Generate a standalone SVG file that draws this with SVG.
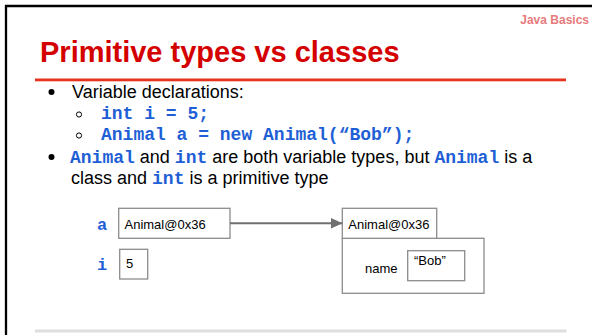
<svg xmlns="http://www.w3.org/2000/svg" width="592" height="335" viewBox="0 0 592 335">
<style>
.body{font-family:"Liberation Sans",Arial,sans-serif;font-size:18px;fill:#000}
.code{font-family:"Liberation Mono","Courier New",monospace;font-weight:bold;fill:#1f5fd6}
.box{fill:#fff;stroke:#8c8c8c;stroke-width:1.3}
.lbl{font-family:"Liberation Sans",Arial,sans-serif;font-size:13px;fill:#000}
.var{font-family:"Liberation Mono","Courier New",monospace;font-weight:bold;font-size:17px;fill:#1f5fd6}
.conn{stroke:#707070;stroke-width:2;fill:none}
</style>
<defs>
<marker id="ah" markerUnits="userSpaceOnUse" markerWidth="13" markerHeight="12" refX="12" refY="6" orient="auto"><path d="M0,0.5 L12,6 L0,11.5 Z" fill="#707070"/></marker>
</defs>
<rect width="592" height="335" fill="#fff"/>
<path d="M6,340 V6 H600" fill="none" stroke="#000" stroke-width="2.3"/>
<g id="header">
<text x="589" y="24" text-anchor="end" font-family="Liberation Sans, Arial, sans-serif" font-size="12" font-weight="bold" fill="#e77b7b">Java Basics</text>
<text x="40" y="62" font-family="Liberation Sans, Arial, sans-serif" font-size="29" font-weight="bold" fill="#d40000">Primitive types vs classes</text>
<rect x="35" y="78.5" width="531" height="2.8" fill="#e8321e"/>
</g>
<g id="bullets">
<circle cx="51.5" cy="92" r="3" fill="#000"/>
<text class="body" x="72" y="98">Variable declarations:</text>
<circle cx="79" cy="114.5" r="2.6" fill="none" stroke="#000" stroke-width="1"/>
<text class="body code" x="101" y="119">int i = 5;</text>
<circle cx="79" cy="135.5" r="2.6" fill="none" stroke="#000" stroke-width="1"/>
<text class="body code" x="101" y="140">Animal a = new Animal(“Bob”);</text>
<circle cx="51.5" cy="157" r="3" fill="#000"/>
<text class="body" x="70" y="163" xml:space="preserve"><tspan class="code">Animal</tspan> and <tspan class="code">int</tspan> are both variable types, but <tspan class="code">Animal</tspan> is a</text>
<text class="body" x="71" y="184" xml:space="preserve">class and <tspan class="code">int</tspan> is a primitive type</text>
</g>
<g id="var-a">
<text class="var" x="97" y="230">a</text>
<rect class="box" x="118.7" y="208.3" width="111.3" height="30"/>
<text class="lbl" x="124.5" y="229">Animal@0x36</text>
</g>
<g id="var-i">
<text class="var" x="97" y="270">i</text>
<rect class="box" x="119.7" y="249.3" width="28" height="29.7"/>
<text class="lbl" x="126" y="268">5</text>
</g>
<g id="obj-animal">
<rect class="box" x="342.3" y="238.3" width="141.7" height="55"/>
<rect class="box" x="342.3" y="208.3" width="94.4" height="30"/>
<text class="lbl" x="348.3" y="229">Animal@0x36</text>
<text class="lbl" x="365" y="273">name</text>
<rect class="box" x="407.7" y="250.7" width="57" height="30"/>
<text class="lbl" x="414" y="265">“Bob”</text>
</g>
<g id="connectors">
<line class="conn" x1="230" y1="223.3" x2="342.5" y2="223.3" marker-end="url(#ah)"/>
</g>
<rect x="35" y="329.5" width="531.5" height="3" fill="#dedede"/>
</svg>
